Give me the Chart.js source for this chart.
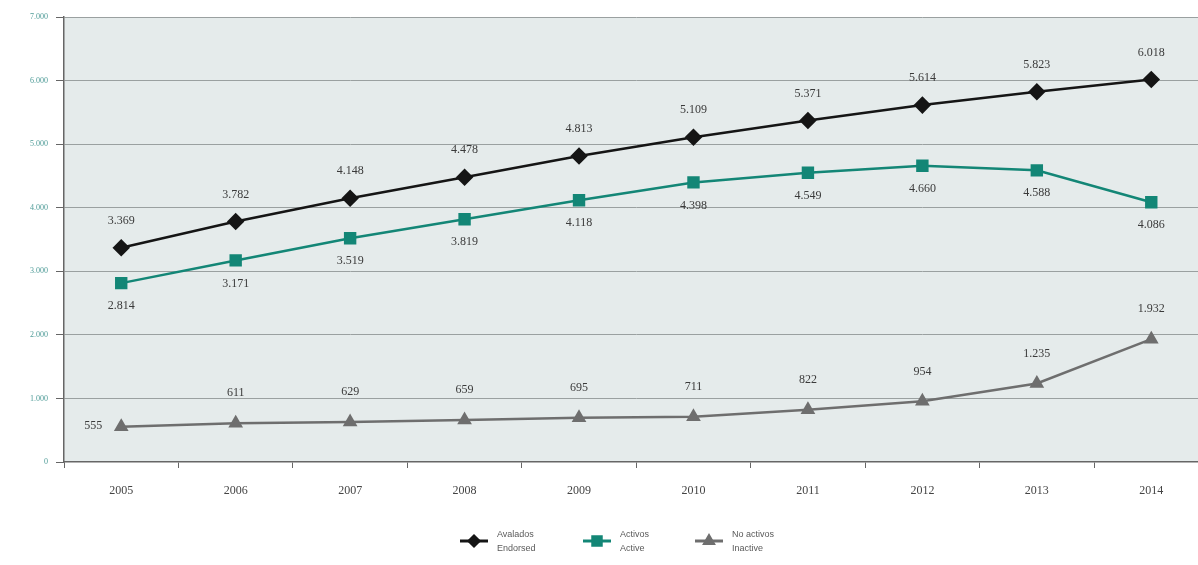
<!DOCTYPE html>
<html>
<head>
<meta charset="utf-8">
<script src="https://cdn.jsdelivr.net/npm/chart.js@4/dist/chart.umd.min.js"></script>
<style>
  html, body { margin: 0; padding: 0; background: #fff; overflow: hidden; }
  #wrap { width: 1218px; height: 565px; }
</style>
</head>
<body>
<div id="wrap"><canvas id="graficoAvales" width="1218" height="565" style="width:1218px;height:565px"></canvas></div>
<script>
// años y series
const anios = ['2005', '2006', '2007', '2008', '2009', '2010', '2011', '2012', '2013', '2014'];
const avalados = [3369, 3782, 4148, 4478, 4813, 5109, 5371, 5614, 5823, 6018];
const activos = [2814, 3171, 3519, 3819, 4118, 4398, 4549, 4660, 4588, 4086];
const noActivos = [555, 611, 629, 659, 695, 711, 822, 954, 1235, 1932];

// leyenda en dos idiomas
const leyendaEs = ['Avalados', 'Activos', 'No activos'];
const leyendaEn = ['Endorsed', 'Active', 'Inactive'];

const colores = ['#151515', '#138676', '#6e6e6e'];
const formato = v => v.toLocaleString('de-DE');

// fondo del área de trazado
const fondoArea = {
    id: 'fondoArea',
    beforeDraw(chart) {
        const { ctx, chartArea: a } = chart;
        ctx.save();
        ctx.fillStyle = '#e5ebeb';
        ctx.fillRect(a.left, a.top, a.right - a.left, a.bottom - a.top);
        ctx.restore();
    }
};

// etiquetas con el valor de cada punto
const etiquetas = {
    id: 'etiquetas',
    afterDatasetsDraw(chart) {
        const ctx = chart.ctx;
        ctx.save();
        ctx.font = '12px "Liberation Serif"';
        ctx.fillStyle = '#3a3a3a';
        ctx.textAlign = 'center';
        ctx.textBaseline = 'middle';
        chart.data.datasets.forEach((ds, i) => {
            chart.getDatasetMeta(i).data.forEach((p, j) => {
                const txt = formato(ds.data[j]);
                if (i === 0) {
                    ctx.fillText(txt, p.x, p.y - 27);
                } else if (i === 1) {
                    ctx.fillText(txt, p.x, p.y + 23);
                } else if (j === 0) {
                    ctx.fillText(txt, p.x - 28, p.y - 1);
                } else {
                    ctx.fillText(txt, p.x, p.y - 30);
                }
            });
        });
        ctx.restore();
    }
};

// leyenda inferior con texto en dos líneas
const leyenda = {
    id: 'leyenda',
    afterDraw(chart) {
        const ctx = chart.ctx;
        const xs = [460, 583, 695];
        const y = 541;
        const estilos = ['rectRot', 'rect', 'triangle'];
        ctx.save();
        xs.forEach((x, i) => {
            ctx.strokeStyle = colores[i];
            ctx.lineWidth = 3;
            ctx.beginPath();
            ctx.moveTo(x, y);
            ctx.lineTo(x + 28, y);
            ctx.stroke();
            ctx.fillStyle = colores[i];
            Chart.helpers.drawPoint(ctx, { pointStyle: estilos[i], radius: i === 1 ? 6 : 5, borderWidth: 1 }, x + 14, y);
            ctx.fillStyle = '#5a5a5a';
            ctx.font = '9px "Liberation Sans"';
            ctx.textAlign = 'left';
            ctx.textBaseline = 'middle';
            ctx.fillText(leyendaEs[i], x + 37, y - 6);
            ctx.fillText(leyendaEn[i], x + 37, y + 8);
        });
        ctx.restore();
    }
};

const marcador = (color, estilo, radio) => ({
    borderColor: color,
    backgroundColor: color,
    pointBackgroundColor: color,
    pointBorderColor: color,
    pointStyle: estilo,
    pointRadius: radio,
    pointHoverRadius: radio,
    borderWidth: 2.5,
    tension: 0,
    clip: false
});

const ctx = document.getElementById('graficoAvales').getContext('2d');
new Chart(ctx, {
    type: 'line',
    data: {
        labels: anios,
        datasets: [
            Object.assign({ label: leyendaEs[0], data: avalados }, marcador(colores[0], 'rectRot', 7)),
            Object.assign({ label: leyendaEs[1], data: activos }, marcador(colores[1], 'rect', 7)),
            Object.assign({ label: leyendaEs[2], data: noActivos }, marcador(colores[2], 'triangle', 6))
        ]
    },
    options: {
        responsive: false,
        animation: false,
        layout: { padding: { top: 17, left: 0, right: 0, bottom: 0 } },
        plugins: {
            legend: { display: false },
            tooltip: { enabled: false }
        },
        scales: {
            x: {
                offset: true,
                grid: {
                    offset: true,
                    drawOnChartArea: false,
                    tickLength: 6,
                    color: '#666'
                },
                border: { color: '#666', width: 1.5 },
                ticks: {
                    padding: 16,
                    color: '#444',
                    font: { family: 'Liberation Serif', size: 12 }
                },
                afterFit: s => { s.height = 103; }
            },
            y: {
                min: 0,
                max: 7000,
                ticks: {
                    stepSize: 1000,
                    padding: 8,
                    color: '#4f9c98',
                    font: { family: 'Liberation Serif', size: 8 },
                    callback: v => formato(v)
                },
                grid: {
                    color: ctx => ctx.tick && ctx.tick.value === 0 ? 'rgba(0,0,0,0)' : '#9aa0a0',
                    tickColor: '#666',
                    tickLength: 8
                },
                border: { color: '#666', width: 1.5 },
                afterFit: s => { s.width = 64; }
            }
        }
    },
    plugins: [fondoArea, etiquetas, leyenda]
});
</script>
</body>
</html>
